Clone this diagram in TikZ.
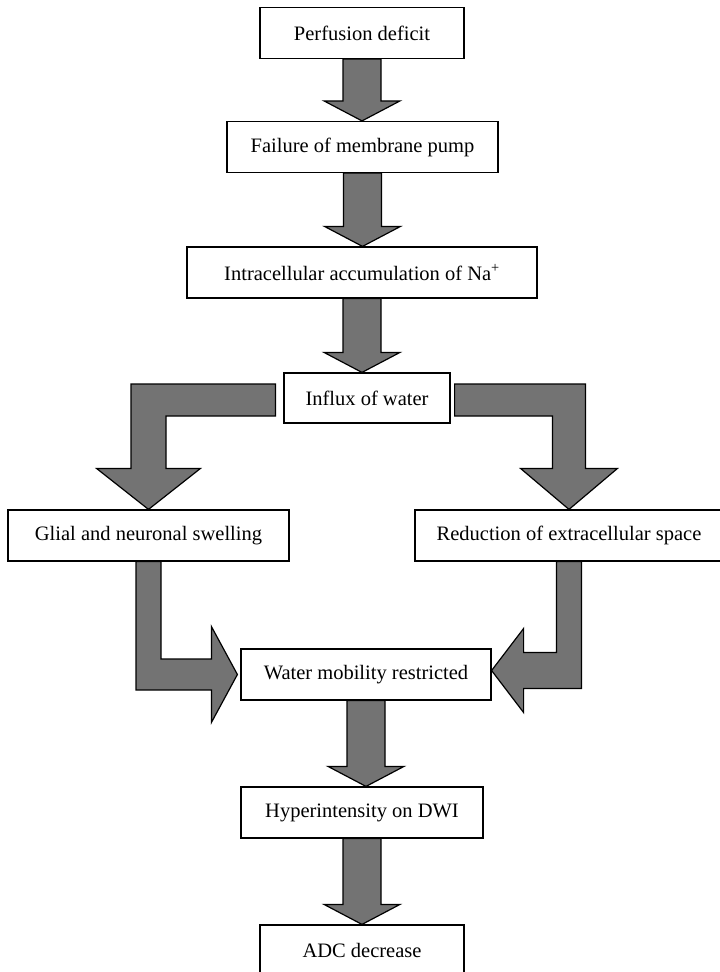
\documentclass[tikz,border=0pt]{standalone}
\usepackage{fontspec}
\setmainfont{Liberation Serif}
\usepackage{tikz}
\usepackage{xcolor}
\usetikzlibrary{calc, positioning}

\definecolor{arrowgray}{RGB}{115,115,115}
\tikzset{
    box/.style = {draw, fill = white, line width = 1.2pt, inner sep = 0pt, minimum height = 51, font = \fontsize{20.5}{24}\selectfont},
    blockarrow/.style = {draw, fill = arrowgray, line width = 1.2pt, line join = miter},
}
\newcommand{\blockdown}[2]{%
    \draw[blockarrow] ($(#1.south) + (-19, 0)$) -- ($(#1.south |- #2.north) + (-19, -20)$) -- ++(-19, 0) -- (#1.south |- #2.north) -- ++(38, -20) -- ++(-19, 0) -- ($(#1.south) + (19, 0)$) -- cycle;
}

\begin{document}
\begin{tikzpicture}[x = 1pt, y = -1pt]%{{{
                \useasboundingbox (0, 0) rectangle (720, 972);

                \node (perf) [box, minimum width = 204] at (362, 33) { Perfusion deficit };
                \node (fail) [box, minimum width = 271] at (362.5, 147) { Failure of membrane pump };
                \node (intra) [box, minimum width = 350] at (362, 272.5) { Intracellular accumulation of Na\textsuperscript{+} };
                \node (influx) [box, minimum width = 166, minimum height = 50] at (367, 398) { Influx of water };
                \node (glial) [box, minimum width = 281] at (148.5, 535.5) { Glial and neuronal swelling };
                \node (reduc) [box, minimum width = 308] at (569, 535.5) { Reduction of extracellular space };
                \node (water) [box, minimum width = 250] at (366, 674.5) { Water mobility restricted };
                \node (hyper) [box, minimum width = 242] at (362, 812.5) { Hyperintensity on DWI };
                \node (adc) [box, minimum width = 204] at (362, 950.5) { ADC decrease };

                \blockdown{perf}{fail}
                \blockdown{fail}{intra}
                \blockdown{intra}{influx}
                \blockdown{water}{hyper}
                \blockdown{hyper}{adc}

                \draw[blockarrow] ($(influx.west) + (-8, -14)$) -| ($(glial.north) + (-17.5, -41)$) -- ++(-34.5, 0) -- (glial.north) -- ++(52, -41) -- ++(-34.5, 0) |- ($(influx.west) + (-8, 18)$) -- cycle;
                \draw[blockarrow] ($(influx.east) + (4, -14)$) -| ($(reduc.north) + (16.5, -41)$) -- ++(32, 0) -- (reduc.north) -- ++(-48.5, -41) -- ++(32, 0) |- ($(influx.east) + (4, 18)$) -- cycle;
                \draw[blockarrow] ($(glial.south) + (12.5, 0)$) |- ($(water.west) + (-29, -15.5)$) -- ++(0, -32.5) -- ($(water.west) + (-3, 0)$) -- ++(-26, 48) -- ++(0, -32.5) -| ($(glial.south) + (-12.5, 0)$) -- cycle;
                \draw[blockarrow] ($(reduc.south) + (-12.5, 0)$) |- ($(water.east) + (32, -22)$) -- ++(0, -24) -- ($(water.east) + (0, -4)$) -- ++(32, 42) -- ++(0, -24) -| ($(reduc.south) + (12.5, 0)$) -- cycle;
            \end{tikzpicture}
\end{document}
